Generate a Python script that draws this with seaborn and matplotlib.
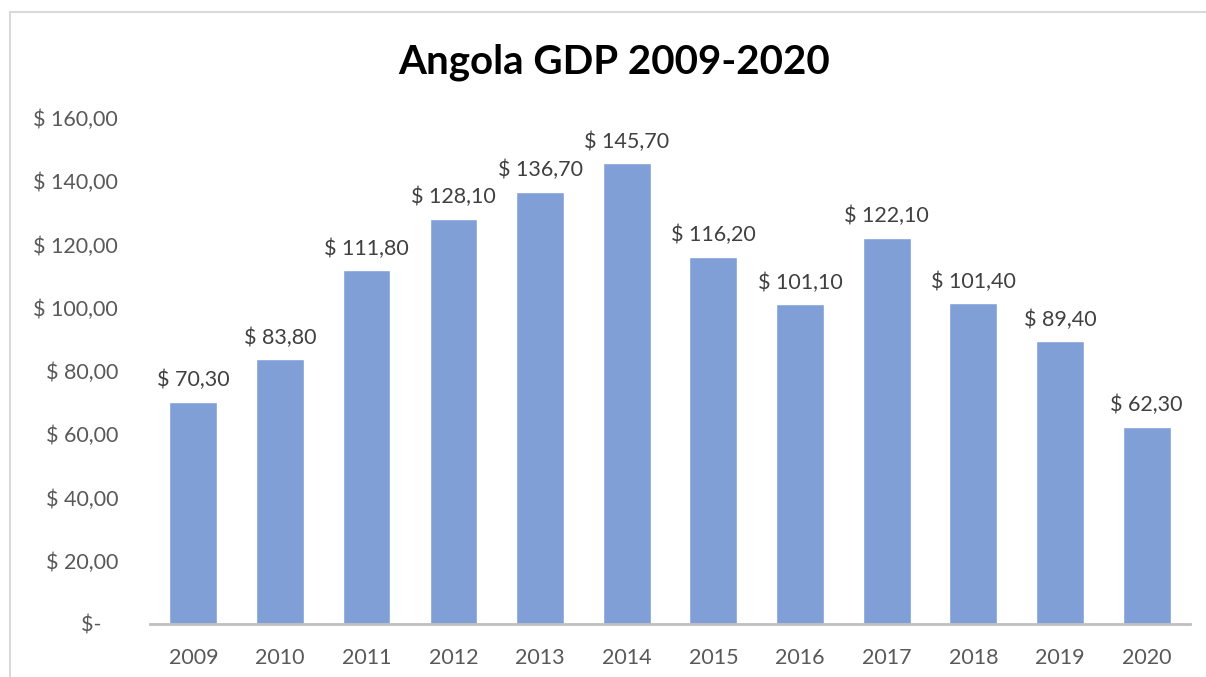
import matplotlib
matplotlib.use("Agg")
import matplotlib.pyplot as plt
import seaborn as sns
import pandas as pd
from matplotlib.lines import Line2D

years = ["2009", "2010", "2011", "2012", "2013", "2014", "2015", "2016", "2017", "2018", "2019", "2020"]
gdp = [70.30, 83.80, 111.80, 128.10, 136.70, 145.70, 116.20, 101.10, 122.10, 101.40, 89.40, 62.30]
yticks = [0, 20, 40, 60, 80, 100, 120, 140, 160]

sns.set_theme(style="white")
plt.rcParams['font.family'] = ['Lato', 'DejaVu Sans']

W, H = 1206, 677
fig = plt.figure(figsize=(W / 100, H / 100), dpi=100)
ax = fig.add_axes([150 / W, (H - 624) / H, (1190 - 150) / W, (624 - 118) / H])

df = pd.DataFrame({"year": years, "gdp": gdp})
sns.barplot(data=df, x="year", y="gdp", color="#7F9FD6", saturation=1, width=0.55, ax=ax)

def fmt(v):
    if v == 0:
        return "$-   "
    return "$ " + f"{v:,.2f}".replace(",", "X").replace(".", ",").replace("X", ".")

for p, v in zip(ax.patches, gdp):
    ax.text(p.get_x() + p.get_width() / 2, v + 3.6, fmt(v), ha="center", va="bottom",
            fontsize=15.5, color="#404040")

ax.set_ylim(0, 160)
ax.set_xlim(-0.5, len(years) - 0.5)
ax.set_yticks(yticks)
ax.set_yticklabels([fmt(t) for t in yticks])
ax.set_xlabel("")
ax.set_ylabel("")
ax.tick_params(axis="y", length=0, pad=23, labelsize=15.5, labelcolor="#595959")
ax.tick_params(axis="x", length=0, pad=17, labelsize=15.5, labelcolor="#595959")
for s in ["top", "right", "left"]:
    ax.spines[s].set_visible(False)
ax.spines["bottom"].set_color("#BFBFBF")
ax.spines["bottom"].set_linewidth(2)
ax.grid(False)

fig.text(614 / W, (H - 62) / H, "Angola GDP 2009-2020", ha="center", va="center",
         fontsize=29, fontweight="bold", color="black")

# chart frame
fig.add_artist(Line2D([10 / W, 1], [(H - 12) / H, (H - 12) / H], color="#D9D9D9", lw=1.5, transform=fig.transFigure))
fig.add_artist(Line2D([10 / W, 10 / W], [(H - 12) / H, 0], color="#D9D9D9", lw=1.5, transform=fig.transFigure))

fig.savefig("out.png", dpi=100)
